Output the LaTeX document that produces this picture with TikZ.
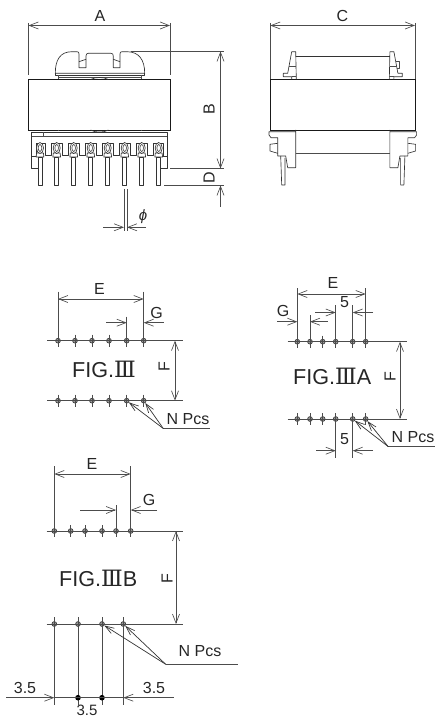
\documentclass[tikz,border=0pt]{standalone}
\usepackage{fontspec}
\setmainfont{Liberation Sans}
\newfontfamily\romanfont{DejaVu Serif}
\usetikzlibrary{arrows.meta}
\definecolor{ink}{gray}{0.2}
\definecolor{soft}{gray}{0.3}
\tikzset{
  part/.style={draw=ink,line width=0.65pt,line join=round},
  thin part/.style={draw=soft,line width=0.65pt,line join=round},
  body line/.style={draw=black!90,line width=0.85pt},
  ext/.style={draw=soft,line width=0.75pt},
  dim/.style={draw=soft,line width=0.75pt,-{Straight Barb[length=9pt,width=7pt,line width=0.65pt]}},
  dimboth/.style={draw=soft,line width=0.75pt,{Straight Barb[length=9pt,width=7pt,line width=0.65pt]}-{Straight Barb[length=9pt,width=7pt,line width=0.65pt]}},
  lead/.style={draw=ink,line width=0.7pt,-{Straight Barb[length=9pt,width=6pt,line width=0.65pt]}},
  hole/.style={circle,draw=ink,fill=black!40,line width=0.65pt,minimum size=4.8pt,inner sep=0pt},
  solid hole/.style={circle,fill=black,minimum size=5.6pt,inner sep=0pt},
  lbl/.style={inner sep=0pt,text=black!85,font=\fontsize{16}{16}\selectfont},
  fig/.style={inner sep=0pt,anchor=west,text=black!85,font=\fontsize{21.6}{22}\selectfont},
  x=1pt,y=-1pt
}
\newcommand{\rn}{{\romanfont\fontsize{22.5}{22}\selectfont Ⅲ}}
\begin{document}
\begin{tikzpicture}
\useasboundingbox (0,0) rectangle (435,719);
% ---------- front view ----------
\draw[body line] (28.5,79.5) rectangle (170,130);
\draw[part] (55.3,73.3) .. controls (55.3,60) and (60,51.7) .. (72,51.7) -- (77,51.7) .. controls (78.5,51.7) and (79,52.5) .. (79,54) -- (79,67.7) -- (86,67.7) -- (86,56) .. controls (86,54) and (87,53.3) .. (88.3,53.3) -- (110.7,53.3) .. controls (112.5,53.3) and (113.3,54) .. (113.3,56) -- (113.3,67.7) -- (120,67.7) -- (120,54) .. controls (120,52.5) and (120.5,51.7) .. (122,51.7) -- (127,51.7) .. controls (139,51.7) and (144.7,60) .. (144.7,73.3) -- cycle;
\draw[part] (79,61.7) -- (86,59.3) (113.3,59.3) -- (120,61.7);
\draw[part] (55.3,73.3) -- (55.3,75) -- (144.7,75) -- (144.7,73.3);
\draw[thin part] (58,75) -- (58,79.5) (141,75) -- (141,79.5) (58,77) -- (141,77);
\draw[part] (90.7,79.5) .. controls (95,76.8) and (104,76.8) .. (108.3,79.5);
\draw[part] (90.7,130) .. controls (95,132.8) and (104,132.8) .. (108.3,130);
\draw[thin part] (58,130) -- (58,131) (141,130) -- (141,131);
\draw[part] (39,168) -- (31.7,168) -- (31.7,132.3) -- (167.3,132.3) -- (167.3,168) -- (160.5,168);
\draw[thin part] (31.7,136.7) -- (167.3,136.7) (43.5,132.3) -- (43.5,136.7);
\draw[part] (31.7,156.5) -- (38,156.5) (36,156.5) -- (36,143.5) -- (45,143.5) -- (45,155.5) -- (51.7,155.5) -- (51.7,143.5) -- (62,143.5) -- (62,155.5) -- (68.7,155.5) -- (68.7,143.5) -- (79,143.5) -- (79,155.5) -- (85.7,155.5) -- (85.7,143.5) -- (96,143.5) -- (96,155.5) -- (102.7,155.5) -- (102.7,143.5) -- (113,143.5) -- (113,155.5) -- (119.7,155.5) -- (119.7,143.5) -- (130,143.5) -- (130,155.5) -- (136.7,155.5) -- (136.7,143.5) -- (147,143.5) -- (147,155.5) -- (153.7,155.5) -- (153.7,143.5) -- (163,143.5) -- (163,156.5) (161,156.5) -- (167.3,156.5);
\foreach \x in {40,56.7,73.7,90.7,107.7,124.7,141.7,158.7}{
  \draw[part,fill=white] (\x-3.9,157) -- (\x-3.4,153) -- (\x+3.4,153) -- (\x+3.9,157) -- cycle;
  \draw[part,fill=white] (\x,148) ellipse [x radius=3.5pt,y radius=5.5pt];
  \draw[thin part] (\x,148) ellipse [x radius=1.8pt,y radius=3.5pt];
  \draw[part,fill=white] (\x-2.1,157) rectangle (\x+2.1,185.5);
}
\coordinate (aL) at (28.5,25.5); \coordinate (aR) at (170,25.5);
\coordinate (aLt) at (28.5,23); \coordinate (aLb) at (28.5,75);
\coordinate (aRt) at (170,23); \coordinate (aRb) at (170,75);
\draw[ext] (aLt) -- (aLb); \draw[ext] (aRt) -- (aRb);
\draw[dimboth] (aL) -- (aR);
\node[lbl] (labA) at (100,16) {A};
\coordinate (bT) at (220.5,51.5); \coordinate (bB) at (220.5,168.5);
\coordinate (bTs) at (130.7,51.5); \coordinate (bTe) at (224,51.5);
\coordinate (dTs) at (170,168.5); \coordinate (dTe) at (224,168.5);
\coordinate (dBs) at (164,185.5); \coordinate (dBe) at (224,185.5);
\coordinate (dE) at (220.5,207); \coordinate (dA) at (220.5,185.5);
\draw[ext] (bTs) -- (bTe); \draw[ext] (dTs) -- (dTe); \draw[ext] (dBs) -- (dBe);
\draw[dimboth] (bT) -- (bB);
\draw[dim] (dE) -- (dA);
\node[lbl,rotate=90] (labB) at (209,109) {B};
\node[lbl,rotate=90] (labD) at (209,178) {D};
\coordinate (phL) at (124,227.3); \coordinate (phR) at (127,227.3);
\coordinate (phLs) at (103,227.3); \coordinate (phRs) at (146,227.3);
\coordinate (phLt) at (124,189); \coordinate (phLb) at (124,231);
\coordinate (phRt) at (127,189); \coordinate (phRb) at (127,231);
\draw[ext] (phLt) -- (phLb); \draw[ext] (phRt) -- (phRb);
\draw[dim] (phLs) -- (phL); \draw[dim] (phRs) -- (phR);
\node[lbl,font=\fontsize{15}{15}\selectfont\itshape] (labPhi) at (143,217) {ϕ};
% ---------- side view ----------
\draw[body line] (270.3,79.5) rectangle (415,130);
\coordinate (cL) at (270.3,25.5); \coordinate (cR) at (415,25.5);
\coordinate (cLt) at (270.3,23); \coordinate (cLb) at (270.3,79.5);
\coordinate (cRt) at (415,23); \coordinate (cRb) at (415,79.5);
\draw[ext] (cLt) -- (cLb); \draw[ext] (cRt) -- (cRb);
\draw[dimboth] (cL) -- (cR);
\node[lbl] (labC) at (342.5,16) {C};
\draw[part] (296.3,79.5) -- (295.7,51.7) -- (291.7,51.7) -- (287.7,73.3) -- (283.3,73.3) -- (283.3,76.7) -- (291.7,76.7) -- (291.7,79.5);
\draw[thin part] (288.5,66.7) -- (295.9,66.7) (291.7,76.7) -- (296.3,76.7);
\draw[part] (389.3,79.5) -- (389.9,51.7) -- (393.9,51.7) -- (397.9,73.3) -- (402.3,73.3) -- (402.3,76.7) -- (393.9,76.7) -- (393.9,79.5);
\draw[thin part] (397,66.7) -- (389.7,66.7) (393.9,76.7) -- (389.3,76.7);
\draw[thin part] (395.5,61) -- (399.7,61) -- (399.7,68) -- (396.8,68);
\draw[part] (296,56.7) -- (389.6,56.7);
\draw[part] (295.7,130) -- (295.7,167.7) -- (287.7,167.7) -- (285.7,156) -- (277.7,156) -- (277.7,137.7) -- (271,137.7) -- (269,135) -- (269,131.7) -- (295.7,131.7);
\draw[part] (277.7,143.3) -- (270,144.3) -- (270,151) -- (277.7,153.3);
\draw[part] (280.7,156) -- (281.7,185) -- (285,185) -- (285,158);
\draw[part] (389.9,130) -- (389.9,167.7) -- (397.9,167.7) -- (399.9,156) -- (407.9,156) -- (407.9,137.7) -- (414.6,137.7) -- (416.6,135) -- (416.6,131.7) -- (389.9,131.7);
\draw[part] (407.9,143.3) -- (415.6,144.3) -- (415.6,151) -- (407.9,153.3);
\draw[part] (404.9,156) -- (403.9,185) -- (400.6,185) -- (400.6,158);
\draw[thin part] (295.7,153.3) -- (389.9,153.3);
% ---------- FIG III ----------
\foreach \n/\x in {1/58,2/75,3/92,4/109,5/126.7,6/143.7}{
  \node[hole] (u\n) at (\x,340.7) {};
  \node[hole] (v\n) at (\x,400.7) {};
  \draw[thin part] (\x,334.7) -- (\x,346.7) (\x,394.7) -- (\x,406.7);
}
\coordinate (uLs) at (47,340.7); \coordinate (uLe) at (182.7,340.7);
\coordinate (vLs) at (47,400.7); \coordinate (vLe) at (182.7,400.7);
\draw[ext] (uLs) -- (uLe); \draw[ext] (vLs) -- (vLe);
\coordinate (uE1) at (58,291.7); \coordinate (uE2) at (143.7,291.7);
\draw[ext] (uE1) -- (u1); \draw[ext] (uE2) -- (u6);
\coordinate (uEa) at (58,299); \coordinate (uEb) at (143.7,299);
\draw[dimboth] (uEa) -- (uEb);
\node[lbl] (labE1) at (99.5,288.5) {E};
\coordinate (uG1) at (126.7,316.7);
\draw[ext] (uG1) -- (u5);
\coordinate (uGa) at (106,322.7); \coordinate (uGb) at (126.7,322.7);
\coordinate (uGc) at (163.7,322.7); \coordinate (uGd) at (143.7,322.7);
\draw[dim] (uGa) -- (uGb); \draw[dim] (uGc) -- (uGd);
\node[lbl] (labG1) at (156.5,312.5) {G};
\coordinate (uFa) at (175,340.7); \coordinate (uFb) at (175,400.7);
\draw[dimboth] (uFa) -- (uFb);
\node[lbl,rotate=90] (labF1) at (164,367) {F};
\node[fig] (figA) at (72,369) {FIG.\rn};
\coordinate (uN) at (163.3,428.5); \coordinate (uNe) at (210,428.5);
\draw[ext] (uN) -- (uNe);
\draw[lead] (uN) -- (v5); \draw[lead] (uN) -- (v6);
\node[lbl] (labN1) at (188,419) {N Pcs};
% ---------- FIG III A ----------
\foreach \n/\x in {1/297.3,2/310,3/322.7,4/335.7,5/352.7,6/365.7}{
  \node[hole] (p\n) at (\x,341.7) {};
  \node[hole] (q\n) at (\x,419) {};
  \draw[thin part] (\x,335.7) -- (\x,347.7) (\x,413) -- (\x,425);
}
\coordinate (pLs) at (287.7,341.7); \coordinate (pLe) at (406.7,341.7);
\coordinate (qLs) at (287.7,419); \coordinate (qLe) at (406.7,419);
\draw[ext] (pLs) -- (pLe); \draw[ext] (qLs) -- (qLe);
\coordinate (pE1) at (297.3,288); \coordinate (pE2) at (365.7,288);
\draw[ext] (pE1) -- (p1); \draw[ext] (pE2) -- (p6);
\coordinate (pEa) at (297.3,294); \coordinate (pEb) at (365.7,294);
\draw[dimboth] (pEa) -- (pEb);
\node[lbl] (labE2) at (333,283) {E};
\coordinate (p5a) at (335.7,305); \coordinate (p5b) at (352.7,305);
\draw[ext] (p5a) -- (p4); \draw[ext] (p5b) -- (p5);
\coordinate (pMa) at (315,312.5); \coordinate (pMb) at (335.7,312.5);
\coordinate (pMc) at (373,312.5); \coordinate (pMd) at (352.7,312.5);
\draw[dim] (pMa) -- (pMb); \draw[dim] (pMc) -- (pMd);
\node[lbl] (lab5a) at (344.5,302) {5};
\coordinate (pG1) at (310,315);
\draw[ext] (pG1) -- (p2);
\coordinate (pGa) at (277,321.7); \coordinate (pGb) at (297.3,321.7);
\coordinate (pGc) at (327.7,321.7); \coordinate (pGd) at (310,321.7);
\draw[dim] (pGa) -- (pGb); \draw[dim] (pGc) -- (pGd);
\node[lbl] (labG2) at (283,310.5) {G};
\coordinate (pFa) at (400,341.7); \coordinate (pFb) at (400,419);
\draw[dimboth] (pFa) -- (pFb);
\node[lbl,rotate=90] (labF2) at (390,377) {F};
\node[fig] (figB) at (293,376) {FIG.\rn A};
\coordinate (q5a) at (335.7,458); \coordinate (q5b) at (352.7,458);
\draw[ext] (q4) -- (q5a); \draw[ext] (q5) -- (q5b);
\coordinate (qMa) at (316,450.7); \coordinate (qMb) at (335.7,450.7);
\coordinate (qMc) at (373,450.7); \coordinate (qMd) at (352.7,450.7);
\draw[dim] (qMa) -- (qMb); \draw[dim] (qMc) -- (qMd);
\node[lbl] (lab5b) at (344.5,439.5) {5};
\coordinate (qN) at (388.3,446.7); \coordinate (qNe) at (435,446.7);
\draw[ext] (qN) -- (qNe);
\draw[lead] (qN) -- (q5); \draw[lead] (qN) -- (q6);
\node[lbl,anchor=east] (labN2) at (434.5,437) {N Pcs};
% ---------- FIG III B ----------
\foreach \n/\x in {1/54.3,2/70.7,3/85,4/102,5/116,6/130.7}{
  \node[hole] (r\n) at (\x,531) {};
  \draw[thin part] (\x,525) -- (\x,537);
}
\foreach \n/\x in {1/54.3,2/78,3/102,4/123.3}{
  \node[hole] (s\n) at (\x,624) {};
  \coordinate (st\n) at (\x,617);
  \coordinate (sb\n) at (\x,705);
  \draw[ext] (st\n) -- (sb\n);
}
\coordinate (rLs) at (46.7,531); \coordinate (rLe) at (183,531);
\coordinate (sLs) at (46.7,624); \coordinate (sLe) at (183,624);
\draw[ext] (rLs) -- (rLe); \draw[ext] (sLs) -- (sLe);
\coordinate (rE1) at (54.3,466); \coordinate (rE2) at (130.7,466);
\draw[ext] (rE1) -- (r1); \draw[ext] (rE2) -- (r6);
\coordinate (rEa) at (54.3,474); \coordinate (rEb) at (130.7,474);
\draw[dimboth] (rEa) -- (rEb);
\node[lbl] (labE3) at (92,464) {E};
\coordinate (rG1) at (116,505);
\draw[ext] (rG1) -- (r5);
\coordinate (rGa) at (80,510); \coordinate (rGb) at (116,510);
\coordinate (rGc) at (157,510); \coordinate (rGd) at (130.7,510);
\draw[dim] (rGa) -- (rGb); \draw[dim] (rGc) -- (rGd);
\node[lbl] (labG3) at (149,500) {G};
\coordinate (rFa) at (176,531); \coordinate (rFb) at (176,624);
\draw[dimboth] (rFa) -- (rFb);
\node[lbl,rotate=90] (labF3) at (167,579) {F};
\node[fig] (figC) at (59,578) {FIG.\rn B};
\coordinate (sN) at (165.7,664.3); \coordinate (sNe) at (238,664.3);
\draw[ext] (sN) -- (sNe);
\draw[lead] (sN) -- (s3); \draw[lead] (sN) -- (s4);
\node[lbl] (labN3) at (200,651) {N Pcs};
\node[solid hole] (d2) at (78,697.7) {};
\node[solid hole] (d3) at (102,697.7) {};
\coordinate (sDa) at (6.3,697.7); \coordinate (sDb) at (54.3,697.7);
\coordinate (sDc) at (173.7,697.7); \coordinate (sDd) at (123.3,697.7);
\draw[dim] (sDa) -- (sDb); \draw[dim] (sDc) -- (sDd);
\draw[ext] (sDb) -- (sDd);
\node[lbl] (lab35a) at (25,688) {3.5};
\node[lbl] (lab35b) at (154,688) {3.5};
\node[lbl,font=\fontsize{15}{15}\selectfont,anchor=base] (lab35c) at (87,715.5) {3.5};
\end{tikzpicture}
\end{document}
